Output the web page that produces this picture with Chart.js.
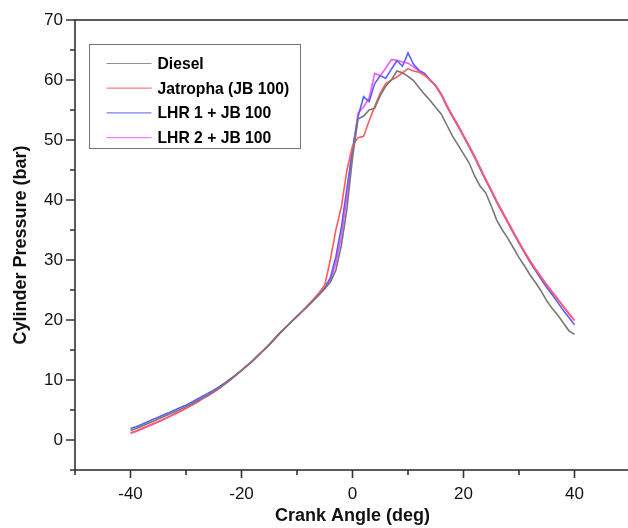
<!DOCTYPE html>
<html><head><meta charset="utf-8">
<script src="https://cdn.jsdelivr.net/npm/chart.js@4.4.1/dist/chart.umd.min.js"></script>
<style>html,body{margin:0;padding:0;background:#fff;overflow:hidden}canvas{display:block}</style>
</head><body>
<canvas id="c" width="632" height="528"></canvas>
<script>
const crankAngle = [-40,-39,-38,-37,-36,-35,-34,-33,-32,-31,-30,-29,-28,-27,-26,-25,-24,-23,-22,-21,-20,-19,-18,-17,-16,-15,-14,-13,-12,-11,-10,-9,-8,-7,-6,-5,-4,-3,-2,-1,0,1,2,3,4,5,6,7,8,9,10,11,12,13,14,15,16,17,18,19,20,21,22,23,24,25,26,27,28,29,30,31,32,33,34,35,36,37,38,39,40];
const diesel = [1.6,1.9,2.3,2.7,3.1,3.5,3.9,4.3,4.7,5.1,5.6,6.0,6.5,7.0,7.5,8.1,8.7,9.4,10.1,10.8,11.6,12.4,13.2,14.1,15.0,15.9,16.9,17.9,18.8,19.7,20.6,21.5,22.4,23.3,24.2,
  25.2,26.3,28.3,32.5,38.5,47.0,53.5,54.0,55.0,55.3,57.4,59.0,60.0,61.5,61.2,60.6,59.9,58.7,57.6,56.6,55.4,54.3,52.5,50.7,49.2,47.7,46.2,44.0,42.3,41.2,39.0,36.6,35.0,33.6,32.0,30.4,29.0,27.5,26.2,24.8,23.2,21.9,20.8,19.5,18.2,17.6];
const jatropha = [1.2,1.5,1.9,2.3,2.7,3.1,3.5,3.9,4.4,4.8,5.3,5.8,6.3,6.9,7.4,8.0,8.6,9.3,10.0,10.8,11.6,12.4,13.2,14.1,15.0,15.9,16.9,17.9,18.8,19.7,20.6,21.5,22.5,23.5,24.6,
  25.8,30.0,35.0,38.9,45.0,49.0,50.4,50.6,53.2,55.6,57.8,59.4,60.0,60.5,61.2,61.9,61.5,61.3,60.8,60.0,59.0,57.6,55.7,54.0,52.4,50.7,49.0,47.2,45.3,43.4,41.6,39.7,38.0,36.3,34.6,32.9,31.3,29.8,28.4,27.1,25.8,24.6,23.4,22.2,21.0,19.9];
const lhr1 = [1.9,2.2,2.6,3.0,3.4,3.8,4.2,4.6,5.0,5.4,5.8,6.3,6.8,7.3,7.8,8.3,8.9,9.5,10.2,10.9,11.6,12.4,13.2,14.1,15.0,15.9,16.9,17.9,18.8,19.7,20.6,21.5,22.4,23.4,24.4,
  25.4,27.0,30.5,35.5,42.0,48.5,53.9,57.2,56.4,59.4,60.7,60.3,61.8,63.2,62.3,64.5,62.6,61.6,61.1,60.0,59.0,57.5,55.6,53.9,52.3,50.6,48.9,47.1,45.2,43.3,41.5,39.6,37.9,36.2,34.5,32.8,31.2,29.6,28.2,26.8,25.4,24.2,22.9,21.6,20.4,19.2];
const lhr2 = [1.1,1.4,1.8,2.2,2.6,3.0,3.4,3.9,4.3,4.8,5.3,5.8,6.3,6.9,7.4,8.0,8.6,9.3,10.0,10.8,11.6,12.4,13.2,14.1,15.0,15.9,16.9,17.9,18.8,19.7,20.6,21.5,22.4,23.3,24.3,
  25.2,26.6,29.5,34.0,40.5,48.0,54.5,55.5,57.0,61.1,60.7,62.0,63.4,63.3,63.0,62.8,62.2,61.5,60.8,59.9,59.1,57.7,55.8,54.1,52.5,50.8,49.1,47.3,45.4,43.5,41.7,39.8,38.1,36.4,34.7,33.0,31.4,29.9,28.5,27.2,25.9,24.7,23.5,22.3,21.1,20.0];
const seriesNames = ['Diesel','Jatropha (JB 100)','LHR 1 + JB 100','LHR 2 + JB 100'];
const seriesColors = ['#777777','#ff5c5c','#5c5cff','#ff55ff'];
const xTicks = [-50,-40,-30,-20,-10,0,10,20,30,40,50];
const xLabelled = [-40,-20,0,20,40];
const yTicks = [-5,0,5,10,15,20,25,30,35,40,45,50,55,60,65,70];
const yLabelled = [0,10,20,30,40,50,60,70];

const FONT = "'Liberation Sans', Arial, sans-serif";
const toPts = arr => arr.map((v,i)=>({x:crankAngle[i], y:v}));
const seriesData = [diesel, jatropha, lhr1, lhr2];

const framePlugin = {
  id:'frame',
  afterDraw(chart){
    const {ctx, chartArea:a, scales:{x,y}} = chart;
    ctx.save();
    ctx.strokeStyle = '#333'; ctx.lineWidth = 1.6;
    ctx.strokeRect(a.left, a.top, a.right-a.left, a.bottom-a.top);
    ctx.beginPath();
    xTicks.forEach(v=>{ const px = x.getPixelForValue(v); const len = xLabelled.includes(v)?8:5;
      ctx.moveTo(px, a.bottom); ctx.lineTo(px, a.bottom+len); });
    yTicks.forEach(v=>{ const py = y.getPixelForValue(v); const len = yLabelled.includes(v)?9:5;
      ctx.moveTo(a.left, py); ctx.lineTo(a.left-len, py); });
    ctx.stroke();
    ctx.restore();
  }
};
const legendPlugin = {
  id:'boxLegend',
  afterDraw(chart){
    const {ctx, chartArea:a} = chart;
    const bx = a.left+14.5, by = a.top+24.5, bw = 211, bh = 104;
    ctx.save();
    ctx.fillStyle = '#fff'; ctx.fillRect(bx,by,bw,bh);
    ctx.strokeStyle = '#777'; ctx.lineWidth = 1; ctx.strokeRect(bx,by,bw,bh);
    ctx.font = "bold 15.7px " + FONT; ctx.textBaseline = 'middle'; ctx.textAlign = 'left';
    chart.data.datasets.forEach((ds,i)=>{
      const cy = by + 19 + i*24.7;
      ctx.globalAlpha = 0.8;
      ctx.strokeStyle = ds.borderColor; ctx.lineWidth = 1.2;
      ctx.beginPath(); ctx.moveTo(bx+17, cy); ctx.lineTo(bx+62, cy); ctx.stroke();
      ctx.globalAlpha = 1;
      ctx.fillStyle = '#000'; ctx.fillText(ds.label, bx+68, cy+1);
    });
    ctx.restore();
  }
};

new Chart(document.getElementById('c'), {
  type:'line',
  data:{ datasets: seriesData.map((d,i)=>({label:seriesNames[i], data:toPts(d), borderColor:seriesColors[i], borderWidth:1.6, pointRadius:0, tension:0, fill:false})) },
  options:{
    responsive:false, animation:false, devicePixelRatio:1,
    layout:{padding:{top:20,right:2,left:0,bottom:0}},
    plugins:{legend:{display:false}, tooltip:{enabled:false}},
    scales:{
      x:{type:'linear', min:-50, max:50,
        afterBuildTicks:s=>{ s.ticks = xTicks.map(v=>({value:v})); },
        afterFit:s=>{ s.height = 58; s.paddingLeft = 0; s.paddingRight = 0; },
        grid:{display:false, drawTicks:false}, border:{display:false},
        ticks:{autoSkip:false, maxRotation:0, padding:14, color:'#111', font:{family:FONT, size:17},
          callback:v=> xLabelled.includes(v) ? String(v) : ''},
        title:{display:true, text:'Crank Angle (deg)', color:'#111', font:{family:FONT, size:18, weight:'bold'}, padding:{top:0,bottom:1}}
      },
      y:{type:'linear', min:-5, max:70,
        afterBuildTicks:s=>{ s.ticks = yTicks.map(v=>({value:v})); },
        afterFit:s=>{ s.width = 75; s.paddingTop = 0; s.paddingBottom = 0; },
        grid:{display:false, drawTicks:false}, border:{display:false},
        ticks:{autoSkip:false, padding:12, color:'#111', font:{family:FONT, size:17},
          callback:v=> yLabelled.includes(v) ? String(v) : ''},
        title:{display:true, text:'Cylinder Pressure (bar)', color:'#111', font:{family:FONT, size:18, weight:'bold'}, padding:{top:10,bottom:0}}
      }
    }
  },
  plugins:[framePlugin, legendPlugin]
});
</script>
</body></html>
